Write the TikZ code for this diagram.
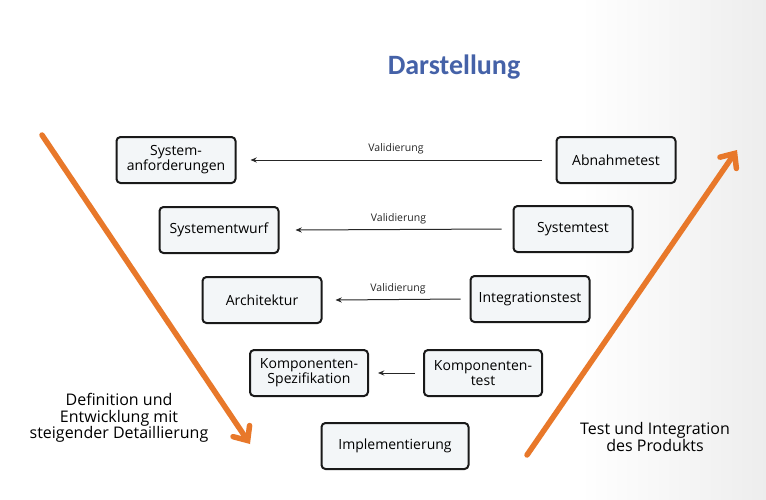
\documentclass[tikz,border=0pt]{standalone}
\usepackage{fontspec}
\setmainfont{Open Sans}
\newfontfamily\titlefont{Carlito}
\usepackage{tikz}
\usetikzlibrary{arrows.meta, positioning}

\definecolor{vorange}{HTML}{E8782A}
\definecolor{vtitle}{HTML}{4562A8}
\definecolor{vfill}{HTML}{F3F6F8}

\begin{document}
\begin{tikzpicture}[
  x=1pt, y=-1pt,
  phasebox/.style={rectangle, draw=black!90, line width=2pt, rounded corners=4pt,
             fill=vfill, minimum width=119pt, minimum height=46pt, align=center,
             inner sep=2pt, font=\fontsize{14}{15}\selectfont},
  valarrow/.style={-{Stealth[length=2.2mm, width=1.8mm]}, line width=1pt, color=black!85},
  vlabel/.style={font=\fontsize{10.5}{11}\selectfont, above=2pt},
  bigarrow/.style={-{Straight Barb[length=4mm, width=7mm, line cap=round]}, line width=5.5pt,
             line cap=round, color=vorange},
  sidetext/.style={align=center, font=\fontsize{16}{16.5}\selectfont}
]
% background
\useasboundingbox (0,0) rectangle (766,499);
\fill[white] (0,0) rectangle (766,499);
\shade[left color=white, right color=gray!14] (580,0) rectangle (766,499);

\node[font=\titlefont\bfseries\fontsize{28}{30}\selectfont, text=vtitle] (title) at (454,67) {Darstellung};

% left branch
\node[phasebox] (sysanf) at (176,160) {System-\\anforderungen};
\node[phasebox] (sysentw) at (219,230) {Systementwurf};
\node[phasebox] (arch) at (262,300) {Architektur};
\node[phasebox, minimum width=118pt] (kompspez) at (309,373) {Komponenten-\\Spezifikation};
\node[phasebox, minimum width=147pt] (impl) at (395,446) {Implementierung};

% right branch
\node[phasebox] (abnahme) at (616,160) {Abnahmetest};
\node[phasebox] (systest) at (573,229) {Systemtest};
\node[phasebox] (integ) at (530,299) {Integrationstest};
\node[phasebox, minimum width=118pt] (komptest) at (483,373) {Komponenten-\\test};

% validation arrows
\draw[valarrow] ([xshift=-14pt]abnahme.west) -- node[vlabel] {Validierung} ([xshift=14pt]sysanf.east);
\draw[valarrow] ([xshift=-11pt]systest.west) -- node[vlabel] {Validierung} ([xshift=16pt]sysentw.east);
\draw[valarrow] ([xshift=-9pt]integ.west) -- node[vlabel] {Validierung} ([xshift=13pt]arch.east);
\draw[valarrow] ([xshift=-8pt]komptest.west) -- ([xshift=9pt]kompspez.east);

% orange direction arrows
\coordinate (defstart) at (42,135);
\coordinate (defend) at (250,444);
\coordinate (teststart) at (527,455);
\coordinate (testend) at (737,150);
\draw[bigarrow] (defstart) -- (defend);
\draw[bigarrow] (teststart) -- (testend);

\node[sidetext] (deftext) at (119,418) {Definition und\\Entwicklung mit\\steigender Detaillierung};
\node[sidetext] (testtext) at (655,437) {Test und Integration\\des Produkts};

\end{tikzpicture}
\end{document}
